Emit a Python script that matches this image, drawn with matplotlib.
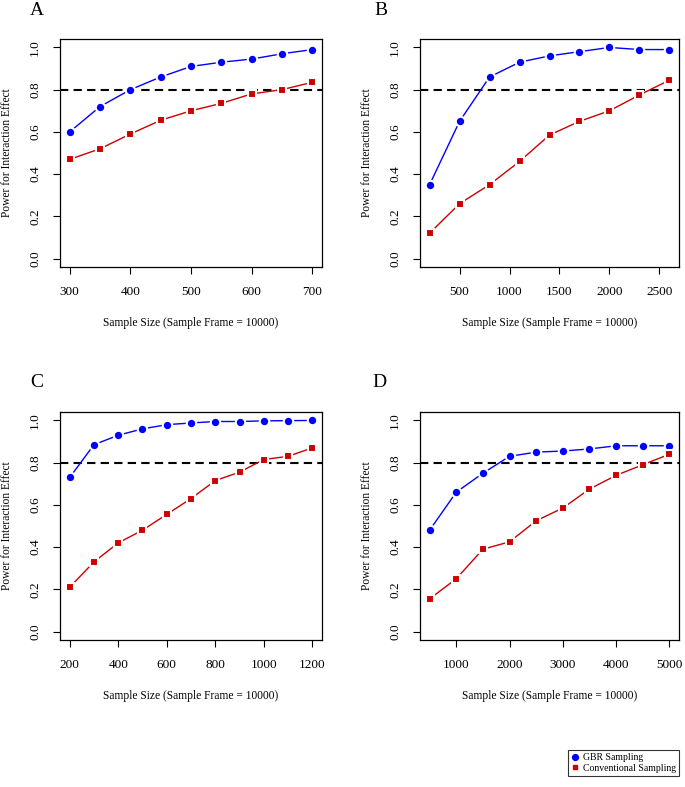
import matplotlib
matplotlib.use("Agg")
import matplotlib.pyplot as plt
from matplotlib.lines import Line2D

plt.rcParams['font.family'] = ['Liberation Serif', 'DejaVu Serif']

# panel A
a_n = [300, 350, 400, 450, 500, 550, 600, 650, 700]
a_gbr = [0.60, 0.72, 0.80, 0.86, 0.91, 0.93, 0.945, 0.97, 0.99]
a_conv = [0.47, 0.52, 0.59, 0.655, 0.70, 0.735, 0.78, 0.80, 0.835]
a_ticks = [300, 400, 500, 600, 700]

# panel B
b_n = [200, 500, 800, 1100, 1400, 1700, 2000, 2300, 2600]
b_gbr = [0.35, 0.65, 0.86, 0.93, 0.96, 0.98, 1.00, 0.99, 0.99]
b_conv = [0.12, 0.26, 0.35, 0.46, 0.585, 0.65, 0.70, 0.775, 0.845]
b_ticks = [500, 1000, 1500, 2000, 2500]

# panel C
c_n = [200, 300, 400, 500, 600, 700, 800, 900, 1000, 1100, 1200]
c_gbr = [0.73, 0.885, 0.93, 0.96, 0.98, 0.988, 0.995, 0.995, 0.998, 0.999, 1.0]
c_conv = [0.21, 0.33, 0.42, 0.48, 0.555, 0.63, 0.715, 0.755, 0.815, 0.83, 0.87]
c_ticks = [200, 400, 600, 800, 1000, 1200]

# panel D
d_n = [500, 1000, 1500, 2000, 2500, 3000, 3500, 4000, 4500, 5000]
d_gbr = [0.48, 0.66, 0.75, 0.83, 0.85, 0.855, 0.865, 0.88, 0.88, 0.88]
d_conv = [0.155, 0.25, 0.39, 0.425, 0.525, 0.585, 0.675, 0.74, 0.79, 0.84]
d_ticks = [1000, 2000, 3000, 4000, 5000]

y_ticks = [0.0, 0.2, 0.4, 0.6, 0.8, 1.0]
y_ticklabels = ["0.0", "0.2", "0.4", "0.6", "0.8", "1.0"]
threshold = 0.8

BLUE = "#0000FF"
RED = "#CC0000"

W, H = 685, 787
fig = plt.figure(figsize=(W / 100, H / 100), dpi=100)


def px_axes(left, top, right, bottom):
    return fig.add_axes([left / W, 1 - bottom / H, (right - left) / W, (bottom - top) / H])


def draw_panel(ax, n, gbr, conv, xticks):
    span = max(n) - min(n)
    ax.set_xlim(min(n) - 0.04 * span, max(n) + 0.04 * span)
    ax.set_ylim(-0.04, 1.04)
    ax.axhline(threshold, color="black", lw=1.5, ls=(0, (4, 2.5)), zorder=1)
    ax.plot(n, gbr, color=BLUE, lw=1.0, marker="o", ms=6.8, mfc=BLUE,
            mec="white", mew=1.5, zorder=3)
    ax.plot(n, conv, color=RED, lw=1.0, marker="s", ms=5.8, mfc=RED,
            mec="white", mew=1.5, zorder=3)
    ax.set_xticks(xticks)
    ax.set_yticks(y_ticks)
    ax.set_yticklabels(y_ticklabels, rotation=90, va="center")
    ax.tick_params(length=5, width=0.8, labelsize=9.5, pad=8.5)
    for s in ax.spines.values():
        s.set_linewidth(0.9)
    ax.set_ylabel("Power for Interaction Effect", fontsize=8.3)
    ax.yaxis.set_label_coords(-0.18, 0.5)
    ax.set_xlabel("Sample Size (Sample Frame = 10000)", fontsize=8.3)
    ax.xaxis.set_label_coords(0.5, -0.22)


axA = px_axes(60, 39, 322, 267)
axB = px_axes(420, 39, 679, 267)
axC = px_axes(60, 412, 322, 640)
axD = px_axes(420, 412, 679, 640)

draw_panel(axA, a_n, a_gbr, a_conv, a_ticks)
draw_panel(axB, b_n, b_gbr, b_conv, b_ticks)
draw_panel(axC, c_n, c_gbr, c_conv, c_ticks)
draw_panel(axD, d_n, d_gbr, d_conv, d_ticks)

fig.text(30 / W, 1 - 15 / H, "A", fontsize=14, va="baseline")
fig.text(374 / W, 1 - 15 / H, "B", fontsize=14, va="baseline")
fig.text(30 / W, 1 - 387 / H, "C", fontsize=14, va="baseline")
fig.text(372 / W, 1 - 387 / H, "D", fontsize=14, va="baseline")

handles = [
    Line2D([], [], ls="none", marker="o", color=BLUE, ms=4.2),
    Line2D([], [], ls="none", marker="s", color=RED, ms=3.3),
]
leg = fig.legend(handles, ["GBR Sampling", "Conventional Sampling"],
                 loc="lower right", bbox_to_anchor=(679 / W, 1 - 776 / H),
                 fontsize=7, frameon=True, fancybox=False, edgecolor="black",
                 handlelength=0.8, handletextpad=0.4, borderpad=0.35,
                 labelspacing=0.15, borderaxespad=0)
leg.get_frame().set_linewidth(0.8)

fig.savefig("out.png", dpi=100)
